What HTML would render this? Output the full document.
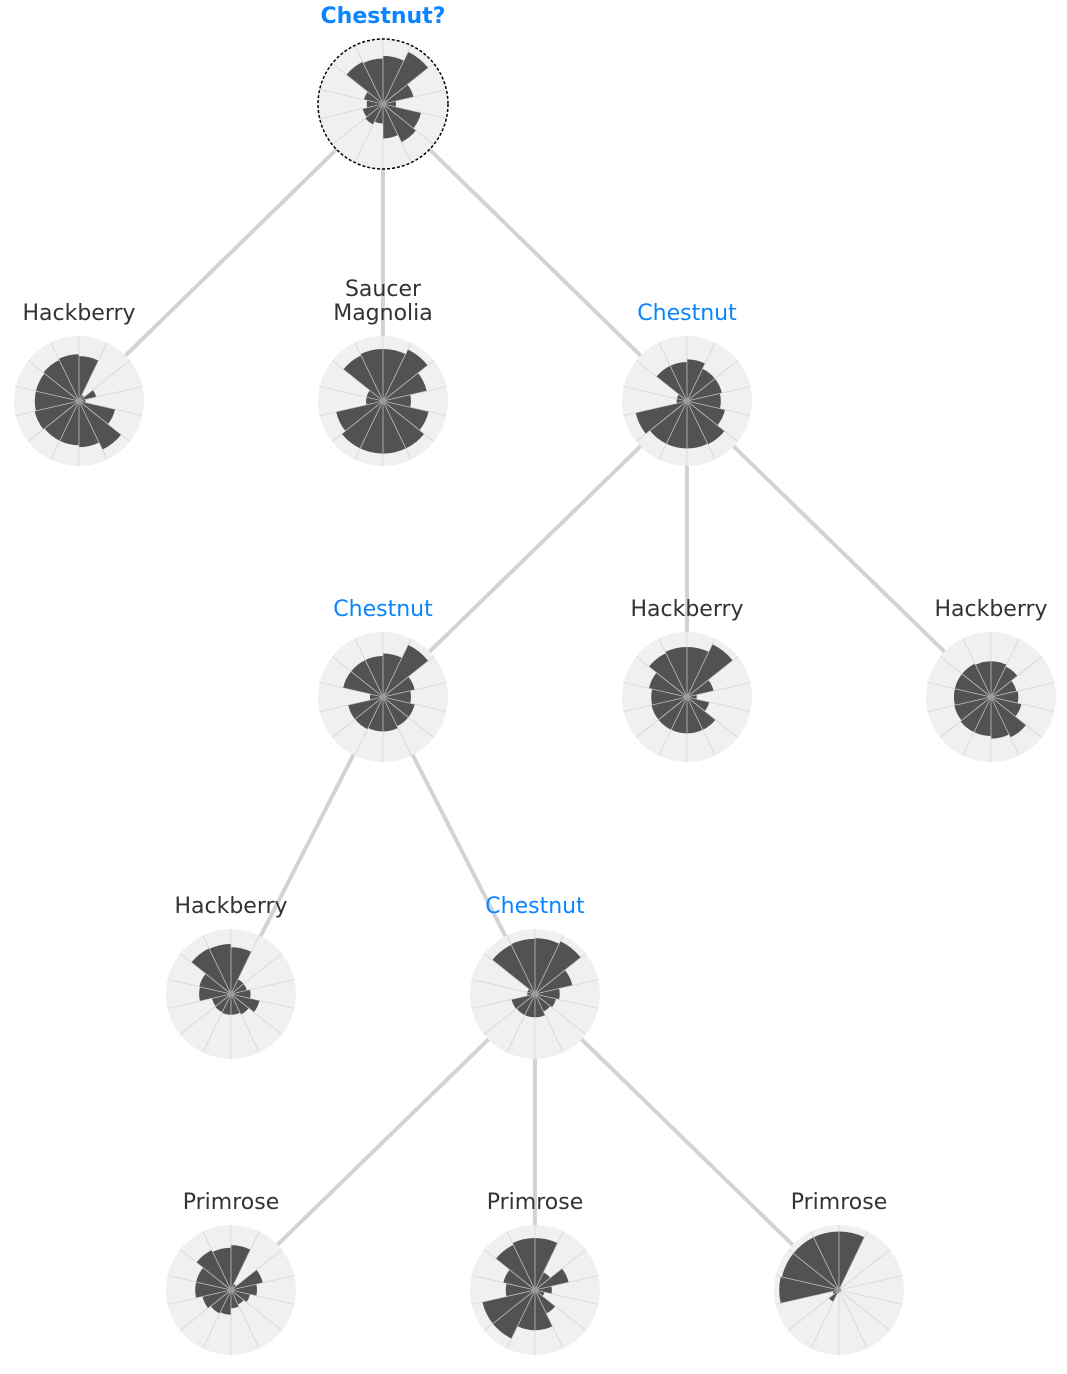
<!DOCTYPE html>
<html><head><meta charset="utf-8"><style>
html,body{margin:0;padding:0;background:#fff;}
svg{display:block;}
text{font-family:"DejaVu Sans","Liberation Sans",sans-serif;font-size:22px;}
</style></head><body>
<svg id="tree" width="1067" height="1374" viewBox="0 0 1067 1374" xmlns="http://www.w3.org/2000/svg">
<g id="edges"></g>
<g id="nodes"></g>
</svg>
<script>
const nodeLabels = ["Chestnut?","Hackberry","Saucer\nMagnolia","Chestnut","Chestnut","Hackberry","Hackberry","Hackberry","Chestnut","Primrose","Primrose","Primrose"];
const nodeParents = [-1,0,0,0,3,3,3,4,4,8,8,8];
const nodeHighlight = [true,false,false,true,true,false,false,false,true,false,false,false];
// 14 sector values per node (fraction of max radius), clockwise from north
const v0 = [0.74,0.89,0.48,0.2,0.6,0.65,0.53,0.3,0.35,0.32,0.25,0.3,0.72,0.7];
const v1 = [0.69,0.1,0.27,0.1,0.57,0.83,0.71,0.68,0.68,0.7,0.68,0.68,0.7,0.72];
const v2 = [0.8,0.88,0.69,0.43,0.72,0.81,0.81,0.81,0.81,0.74,0.26,0.26,0.78,0.8];
const v3 = [0.64,0.55,0.55,0.52,0.6,0.74,0.73,0.73,0.73,0.81,0.16,0.16,0.6,0.6];
const v4 = [0.67,0.89,0.5,0.43,0.5,0.5,0.53,0.53,0.55,0.55,0.2,0.63,0.63,0.63];
const v5 = [0.77,0.9,0.42,0.15,0.35,0.56,0.56,0.56,0.56,0.56,0.55,0.6,0.75,0.77];
const v6 = [0.55,0.52,0.4,0.42,0.48,0.69,0.64,0.6,0.6,0.58,0.57,0.57,0.57,0.55];
const v7 = [0.72,0.25,0.25,0.3,0.45,0.35,0.32,0.32,0.31,0.3,0.49,0.5,0.78,0.77];
const v8 = [0.86,0.9,0.59,0.38,0.33,0.3,0.36,0.36,0.36,0.37,0.12,0.12,0.84,0.85];
const v9 = [0.69,0.1,0.5,0.4,0.3,0.25,0.28,0.38,0.4,0.45,0.55,0.55,0.68,0.65];
const v10 = [0.8,0.3,0.53,0.26,0.15,0.4,0.62,0.62,0.83,0.83,0.45,0.5,0.77,0.8];
const v11 = [0.9,0.02,0.01,0.01,0.01,0.01,0.01,0.05,0.2,0.1,0.92,0.9,0.9,0.9];
const nodeValues = [v0,v1,v2,v3,v4,v5,v6,v7,v8,v9,v10,v11];

const nodeX = [383,79,383,687,383,687,991,231,535,231,535,839];
const nodeY = [104,401,401,401,697,697,697,994,994,1290,1290,1290];
const R = 65;
const NS = "http://www.w3.org/2000/svg";
const edges = document.getElementById('edges');
const nodes = document.getElementById('nodes');
function mk(t, a){const e=document.createElementNS(NS,t);for(const k in a)e.setAttribute(k,a[k]);return e;}
function px(cx,a,r){return cx + r*Math.sin(a);}
function py(cy,a,r){return cy - r*Math.cos(a);}

nodeParents.forEach((p,i)=>{
  if(p<0) return;
  const l = mk('line',{x1:nodeX[p],y1:nodeY[p],x2:nodeX[i],y2:nodeY[i],stroke:'#d3d3d3','stroke-width':4});
  
  
  edges.appendChild(l);
});

nodeValues.forEach((vals,i)=>{
  const cx=nodeX[i], cy=nodeY[i];
  const g = mk('g',{});
  
  
  const bg = mk('circle',{cx:cx,cy:cy,r:R,fill:'#f0f0f0'});
  
  
  g.appendChild(bg);
  const n = vals.length, step = 2*Math.PI/n;
  vals.forEach((v,k)=>{
    const r = v*R, a0=k*step, a1=(k+1)*step;
    const d = `M${cx},${cy} L${px(cx,a0,r)},${py(cy,a0,r)} A${r},${r} 0 0 1 ${px(cx,a1,r)},${py(cy,a1,r)} Z`;
    const s = mk('path',{d:d,fill:'#525252'});
    
    
    g.appendChild(s);
  });
  for(let k=0;k<n;k++){
    const a=k*step;
    const gl = mk('line',{x1:cx,y1:cy,x2:px(cx,a,R),y2:py(cy,a,R),stroke:'#d0d0d0','stroke-width':0.8,'stroke-opacity':0.85});
    
    
    g.appendChild(gl);
  }
  const dot = mk('circle',{cx:cx,cy:cy,r:2,fill:'#999'});
  
  
  g.appendChild(dot);
  if(i===0){
    const ring = mk('circle',{cx:cx,cy:cy,r:R,fill:'none',stroke:'#000','stroke-width':1.5,'stroke-dasharray':'3 2'});
    
    
    g.appendChild(ring);
  }
  const lines = nodeLabels[i].split('\n');
  const base = cy - 81 - (lines.length-1)*24;
  const t = mk('text',{x:cx,'text-anchor':'middle',fill:nodeHighlight[i]?'#0a84ff':'#333333','font-weight':i===0?'bold':'normal'});
  
  
  lines.forEach((ln,j)=>{
    const ts = mk('tspan',{x:cx,y:base+j*24});
    ts.textContent = ln;
    t.appendChild(ts);
  });
  g.appendChild(t);
  nodes.appendChild(g);
});
</script>
</body></html>
